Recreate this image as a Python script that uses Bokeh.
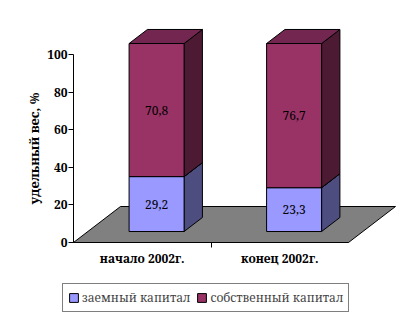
from math import pi
from bokeh.plotting import figure
from bokeh.models import Range1d, FixedTicker, Label, Legend, LegendItem
from bokeh.core.properties import value
from bokeh.embed import file_html
from bokeh.resources import INLINE

# ---- data ----
categories = ["начало 2002г.", "конец 2002г."]
series_names = ["заемный капитал", "собственный капитал"]
borrowed = [29.2, 23.3]
equity = [70.8, 76.7]
y_ticks = [0, 20, 40, 60, 80, 100]
y_title = "удельный вес, %"

# ---- style ----
front_colors = ["#9999FF", "#993366"]
side_colors = ["#4D4D80", "#4D1A33"]
top_colors = ["#7A7ACC", "#732650"]
floor_color = "#808080"
FONT = "Noto Serif"

W, H = 411, 320
LEFT, AXIS_Y = 73, 242
PX_X = 137.5   # pixels per category slot
PX_Y = 1.88    # pixels per percent
n = len(categories)

p = figure(width=W, height=H, output_backend="svg", toolbar_location=None,
           x_range=Range1d(-LEFT / PX_X, (W - LEFT) / PX_X),
           y_range=Range1d(-(H - AXIS_Y) / PX_Y, AXIS_Y / PX_Y),
           min_border=0)
p.xgrid.visible = False
p.ygrid.visible = False
p.outline_line_color = None
p.background_fill_color = "white"
p.border_fill_color = "white"

# 3D depth (in data units)
ddx, ddy = 47 / PX_X, 36 / PX_Y
f0, fd = 0.305, 0.39
fx, fy = f0 * ddx, f0 * ddy
bdx, bdy = fd * ddx, fd * ddy
bar_w = 0.4

# floor
p.patch(x=[0, n, n + ddx, ddx], y=[0, 0, ddy, ddy], fill_color=floor_color,
        line_color="black", line_width=1)

series = [borrowed, equity]
bottoms = [0.0] * n
front_renderers = []
lab_x, lab_y, lab_t = [], [], []
for s, vals in enumerate(series):
    fxs, fys, sxs, sys_, txs, tys = [], [], [], [], [], []
    for i, v in enumerate(vals):
        x0 = i + (1 - bar_w) / 2 + fx
        x1 = x0 + bar_w
        y0 = fy + bottoms[i]
        y1 = y0 + v
        fxs.append([x0, x1, x1, x0]); fys.append([y0, y0, y1, y1])
        sxs.append([x1, x1 + bdx, x1 + bdx, x1]); sys_.append([y0, y0 + bdy, y1 + bdy, y1])
        txs.append([x0, x1, x1 + bdx, x0 + bdx]); tys.append([y1, y1, y1 + bdy, y1 + bdy])
        lab_x.append((x0 + x1) / 2); lab_y.append(y0 + v / 2)
        lab_t.append(f"{v:.1f}".replace(".", ","))
        bottoms[i] += v
    p.patches(xs=sxs, ys=sys_, fill_color=side_colors[s], line_color="black", line_width=1)
    p.patches(xs=txs, ys=tys, fill_color=top_colors[s], line_color="black", line_width=1)
    r = p.patches(xs=fxs, ys=fys, fill_color=front_colors[s], line_color="black", line_width=1)
    front_renderers.append(r)

p.text(x=lab_x, y=lab_y, text=lab_t, text_align="center", text_baseline="middle",
       text_font=value(FONT), text_font_size="12px", text_color="black")

# y axis (fixed at the left edge of the floor)
yax = p.yaxis[0]
yax.fixed_location = 0
yax.ticker = FixedTicker(ticks=y_ticks)
yax.bounds = (y_ticks[0], y_ticks[-1])
yax.major_tick_in = 0
yax.major_tick_out = 5
yax.minor_tick_line_color = None
yax.major_label_standoff = 1
yax.major_label_text_font = FONT
yax.major_label_text_font_style = "bold"
yax.major_label_text_font_size = "12px"
yax.major_label_text_color = "black"
yax.axis_line_color = "black"
yax.major_tick_line_color = "black"

# x axis (fixed at value 0)
xax = p.xaxis[0]
xax.fixed_location = 0
xax.ticker = FixedTicker(ticks=[i + 0.5 for i in range(n)], minor_ticks=list(range(1, n)))
xax.major_label_overrides = {i + 0.5: c for i, c in enumerate(categories)}
xax.bounds = (0, n)
xax.major_tick_line_color = None
xax.major_tick_in = 0
xax.major_tick_out = 0
xax.minor_tick_in = 0
xax.minor_tick_out = 5
xax.minor_tick_line_color = "black"
xax.major_label_standoff = 2
xax.major_label_text_font = FONT
xax.major_label_text_font_style = "bold"
xax.major_label_text_font_size = "12px"
xax.major_label_text_color = "black"
xax.axis_line_color = "black"

# y title
p.add_layout(Label(x=-40 / PX_X, y=(y_ticks[0] + y_ticks[-1]) / 2, text=y_title, angle=pi / 2,
                   text_align="center", text_baseline="middle", text_font=FONT,
                   text_font_style="bold", text_font_size="13px", text_color="black"))

legend = Legend(items=[LegendItem(label=series_names[s], renderers=[front_renderers[s]])
                       for s in range(len(series))],
                orientation="horizontal", location=(62, 8),
                border_line_color="black", border_line_width=1,
                background_fill_color="white", background_fill_alpha=1,
                padding=5, spacing=6, margin=0, glyph_width=11, glyph_height=11,
                label_standoff=3, label_text_font=FONT, label_text_font_size="12px",
                label_height=17)
p.add_layout(legend)

open("out.html", "w").write(file_html(p, INLINE))
